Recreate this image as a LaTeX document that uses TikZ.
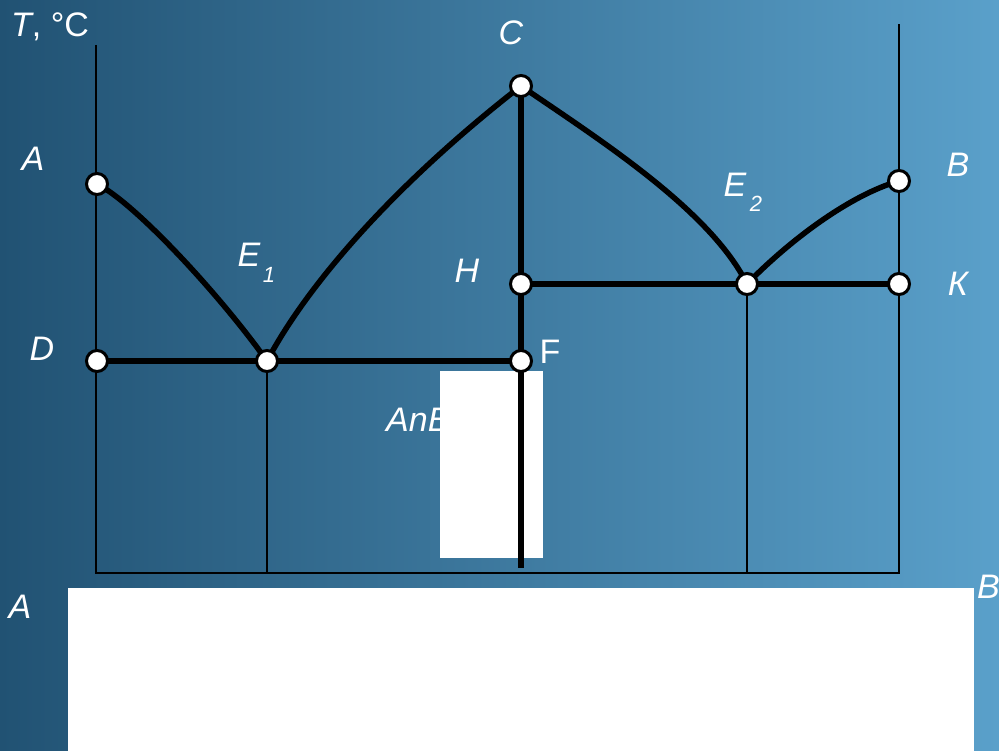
\documentclass[tikz,border=0pt]{standalone}
\usepackage{fontspec}
\setmainfont{Liberation Sans}
\begin{document}
\begin{tikzpicture}[x=1pt,y=-1pt,
  lbl/.style={text=white,font=\fontsize{34}{36}\selectfont\itshape,inner sep=0pt},
  lblup/.style={text=white,font=\fontsize{34}{36}\selectfont,inner sep=0pt},
  pt/.style={circle,draw=black,line width=3pt,fill=white,minimum size=21pt,inner sep=0pt},
  thin/.style={line width=2pt,black},
  thick/.style={line width=5.5pt,black},
  cover/.style={fill=white,draw=none}]
\useasboundingbox (0,0) rectangle (999,751);
\shade[left color={rgb,255:red,33;green,82;blue,115},right color={rgb,255:red,90;green,160;blue,202}] (0,0) rectangle (999,751);
% coordinates
\coordinate (pA) at (97,184);
\coordinate (pD) at (97,361);
\coordinate (pE1) at (267,361);
\coordinate (pF) at (521,361);
\coordinate (pC) at (521,86);
\coordinate (pH) at (521,284);
\coordinate (pE2) at (747,284);
\coordinate (pK) at (899,284);
\coordinate (pB) at (899,181);
\coordinate (lTop) at (96,45);
\coordinate (lBot) at (96,573);
\coordinate (rTop) at (899,24);
\coordinate (rBot) at (899,573);
\coordinate (e1Bot) at (267,573);
\coordinate (e2Bot) at (747,573);
\coordinate (cBot) at (521,568);
% labels
\node[lbl,anchor=west] (tlab) at (11,27) {T\upshape, °C};
\node[lbl] (lA) at (33,159) {A};
\node[lbl] (lC) at (511,33) {C};
\node[lbl] (lB) at (958,165) {B};
\node[lbl] (lE1) at (249,255) {E};
\node[lbl,font=\fontsize{22}{24}\selectfont\itshape] (lE1s) at (269,275) {1};
\node[lbl] (lE2) at (735,185) {E};
\node[lbl,font=\fontsize{22}{24}\selectfont\itshape] (lE2s) at (756,204) {2};
\node[lbl] (lH) at (467,271) {H};
\node[lbl] (lK) at (958,284) {К};
\node[lbl] (lD) at (42,349) {D};
\node[lblup] (lF) at (550,352) {F};
\node[lbl,anchor=west] (lAnB) at (386,420) {AnB};
\node[lbl] (lA2) at (20,607) {A};
\node[lbl,anchor=west] (lB2) at (977,587) {B};
% covering boxes
\fill[cover] (440,371) rectangle (543,558);
\fill[cover] (68,588) rectangle (974,751);
% axes and thin lines
\draw[thin] (lTop) -- (lBot) -- (rBot) -- (rTop);
\draw[thin] (pE1) -- (e1Bot);
\draw[thin] (pE2) -- (e2Bot);
% thick lines
\draw[thick] (pC) -- (cBot);
\draw[thick] (pD) -- (pF);
\draw[thick] (pH) -- (pK);
\draw[thick,line cap=round] (pA) .. controls (135,203) and (220,295) .. (pE1);
\draw[thick,line cap=round] (pE1) .. controls (310,280) and (400,180) .. (pC);
\draw[thick,line cap=round] (pC) .. controls (600,140) and (710,210) .. (pE2);
\draw[thick,line cap=round] (pE2) .. controls (790,240) and (850,195) .. (pB);
% points
\foreach \n in {A,D,E1,F,C,H,E2,K,B}{\node[pt] (\n) at (p\n) {};}
\end{tikzpicture}
\end{document}
